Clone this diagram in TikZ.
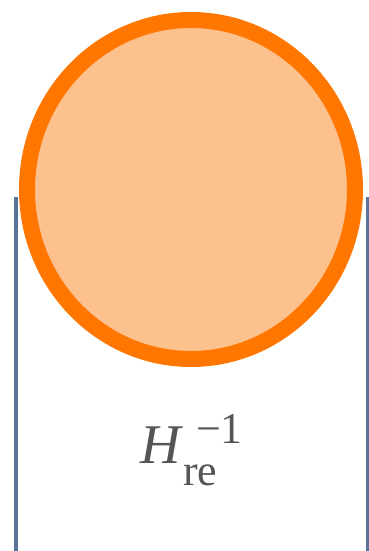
\documentclass[tikz,border=0pt]{standalone}
\usepackage{fontspec}
\setmainfont{Liberation Serif}
\usepackage{xcolor}
\usetikzlibrary{shapes.geometric}

\definecolor{ringorange}{HTML}{FF7700}
\definecolor{ballfill}{HTML}{FDC18E}
\definecolor{wallblue}{HTML}{5A7399}
\definecolor{labelgray}{HTML}{555555}

\begin{document}
\begin{tikzpicture}[
  x=1pt, y=-1pt,
  ball/.style={ellipse, draw=ringorange, fill=ballfill, line width=16pt, minimum width=328pt, minimum height=339pt, inner sep=0pt},
  wall/.style={draw=wallblue, line width=4.5pt},
  lbl/.style={text=labelgray, font=\fontsize{56}{60}\selectfont, inner sep=0pt}
]
  \useasboundingbox (0,0) rectangle (369,551);

  % walls
  \coordinate (lefttop) at (15.8,197);
  \coordinate (leftbot) at (15.8,551);
  \coordinate (righttop) at (368,197);
  \coordinate (rightbot) at (368,551);
  \draw[wall] (lefttop) -- (leftbot);
  \draw[wall] (righttop) -- (rightbot);

  % ball
  \node[ball] (ball) at (191,189.5) {};

  % label
  \node[lbl, anchor=base west] (hubble) at (140,463)
    {\textit{H}\rlap{\hspace{13pt}\raisebox{20pt}{\fontsize{44}{46}\selectfont −1}}\raisebox{-22pt}{\fontsize{44}{46}\selectfont re}};
\end{tikzpicture}
\end{document}
